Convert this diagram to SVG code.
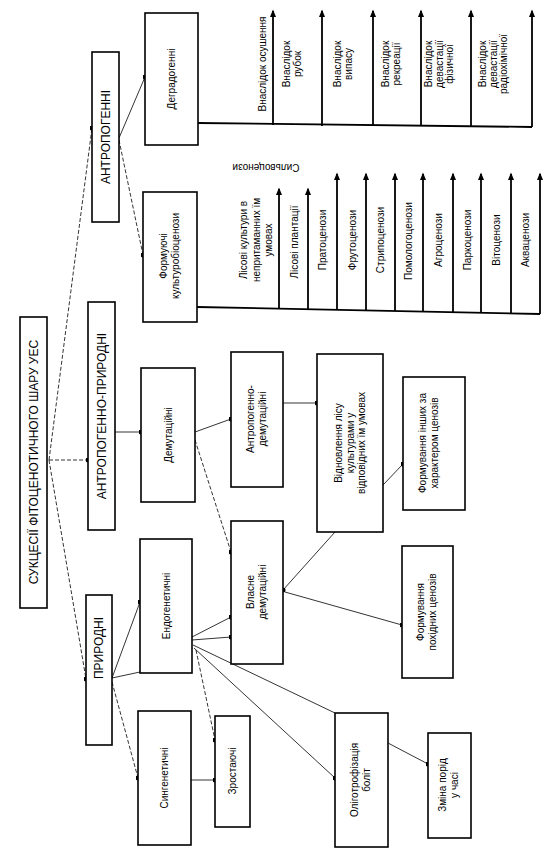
<svg xmlns="http://www.w3.org/2000/svg" width="557" height="862" viewBox="0 0 557 862">
<defs>
<marker id="dot" viewBox="0 0 6 6" refX="3" refY="3" markerWidth="5" markerHeight="5" markerUnits="userSpaceOnUse"><circle cx="3" cy="3" r="3" fill="#000"/></marker>
<marker id="arr" viewBox="0 0 10 8" refX="8" refY="4" markerWidth="8" markerHeight="6" markerUnits="userSpaceOnUse" orient="auto"><path d="M0,0 L10,4 L0,8 Z" fill="#000"/></marker>
<style>
.box{fill:#fff;stroke:#000;stroke-width:1.6}
.t{font-family:"Liberation Sans",Arial,sans-serif;font-size:10px;fill:#000;text-anchor:middle}
.h{font-family:"Liberation Sans",Arial,sans-serif;font-size:12px;fill:#000;text-anchor:middle}
.l{stroke:#000;stroke-width:0.8;fill:none}
.d{stroke:#000;stroke-width:0.8;fill:none;stroke-dasharray:4 2}
.v{stroke:#000;stroke-width:1.8;fill:none}
.e{marker-end:url(#dot)}
.a{marker-end:url(#arr)}
</style>
</defs>
<rect width="557" height="862" fill="#fff"/>
<g id="connectors">
<line class="d e" x1="49" y1="460" x2="92" y2="128"/>
<line class="d e" x1="49" y1="460" x2="88" y2="460"/>
<line class="d e" x1="49" y1="460" x2="86" y2="679"/>
<line class="l e" x1="119" y1="138" x2="145" y2="77"/>
<line class="d e" x1="119" y1="140" x2="143" y2="255"/>
<line class="l e" x1="115" y1="432" x2="141" y2="432"/>
<line class="l e" x1="195" y1="432" x2="231" y2="419"/>
<line class="d e" x1="195" y1="440" x2="231" y2="552"/>
<line class="l e" x1="283" y1="403" x2="317" y2="403"/>
<line class="l e" x1="383" y1="485" x2="403" y2="464"/>
<line class="l e" x1="112" y1="678" x2="140" y2="602"/>
<line class="l" x1="112" y1="678" x2="140" y2="672"/>
<line class="d e" x1="112" y1="682" x2="138" y2="778"/>
<line class="l e" x1="192" y1="637" x2="231" y2="617"/>
<line class="l e" x1="192" y1="640" x2="231" y2="637"/>
<line class="l" x1="193" y1="645" x2="335" y2="713"/>
<line class="l e" x1="194" y1="648" x2="335" y2="778"/>
<line class="d e" x1="196" y1="650" x2="215" y2="740"/>
<line class="l e" x1="335" y1="532" x2="283" y2="590"/>
<line class="l e" x1="285" y1="592" x2="402" y2="625"/>
<line class="l e" x1="191" y1="780" x2="215" y2="780"/>
<line class="l e" x1="388" y1="743" x2="428" y2="764"/>
<polyline class="v" points="198,123 532,127"/>
<line class="v a" x1="273" y1="125" x2="273" y2="11"/>
<line class="v a" x1="322" y1="126" x2="322" y2="11"/>
<line class="v a" x1="373" y1="126" x2="373" y2="11"/>
<line class="v a" x1="421" y1="126" x2="421" y2="11"/>
<line class="v a" x1="471" y1="127" x2="471" y2="11"/>
<line class="v a" x1="532" y1="127" x2="532" y2="11"/>
<polyline class="v" points="197,307 540,314"/>
<line class="v a" x1="279" y1="309" x2="279" y2="189"/>
<line class="v a" x1="308" y1="309" x2="308" y2="189"/>
<line class="v a" x1="337" y1="310" x2="337" y2="174"/>
<line class="v a" x1="366" y1="311" x2="366" y2="174"/>
<line class="v a" x1="395" y1="311" x2="395" y2="174"/>
<line class="v a" x1="423" y1="312" x2="423" y2="174"/>
<line class="v a" x1="453" y1="312" x2="453" y2="174"/>
<line class="v a" x1="481" y1="313" x2="481" y2="174"/>
<line class="v a" x1="511" y1="313" x2="511" y2="174"/>
<line class="v a" x1="540" y1="314" x2="540" y2="174"/>
</g>
<g id="labels">
<text class="t" transform="translate(262,64) rotate(-90)" y="3.5">Внаслідок осушення</text>
<text class="t" transform="translate(292,64) rotate(-90)"><tspan x="0" y="-2">Внаслідок</tspan><tspan x="0" y="9">рубок</tspan></text>
<text class="t" transform="translate(343,64) rotate(-90)"><tspan x="0" y="-2">Внаслідок</tspan><tspan x="0" y="9">випасу</tspan></text>
<text class="t" transform="translate(391,64) rotate(-90)"><tspan x="0" y="-2">Внаслідок</tspan><tspan x="0" y="9">рекреації</tspan></text>
<text class="t" transform="translate(439,64) rotate(-90)"><tspan x="0" y="-7">Внаслідок</tspan><tspan x="0" y="3.5">девастації</tspan><tspan x="0" y="14">фізичної</tspan></text>
<text class="t" transform="translate(493,64) rotate(-90)"><tspan x="0" y="-7">Внаслідок</tspan><tspan x="0" y="3.5">девастації</tspan><tspan x="0" y="14">радіохімічної</tspan></text>
<text class="t" transform="translate(266,167) rotate(180)" y="3.5">Сильвоценози</text>
<text class="t" transform="translate(256,240) rotate(-90)"><tspan x="0" y="-9.5">Лісові культури в</tspan><tspan x="0" y="3.5">непритаманних їм</tspan><tspan x="0" y="16">умовах</tspan></text>
<text class="t" transform="translate(294,242) rotate(-90)" y="3.5">Лісові плантації</text>
<text class="t" transform="translate(322,240) rotate(-90)" y="3.5">Пратоценози</text>
<text class="t" transform="translate(352,240) rotate(-90)" y="3.5">Фрутоценози</text>
<text class="t" transform="translate(380,240) rotate(-90)" y="3.5">Стрипоценози</text>
<text class="t" transform="translate(408,241) rotate(-90)" y="3.5">Помологоценози</text>
<text class="t" transform="translate(438,240) rotate(-90)" y="3.5">Агроценози</text>
<text class="t" transform="translate(467,240) rotate(-90)" y="3.5">Паркоценози</text>
<text class="t" transform="translate(496,240) rotate(-90)" y="3.5">Вітоценози</text>
<text class="t" transform="translate(525,240) rotate(-90)" y="3.5">Акваценози</text>
</g>
<g id="root">
<rect class="box" x="20" y="317" width="27" height="291"/>
<text class="h" transform="translate(34,462) rotate(-90)" y="4">СУКЦЕСІЇ ФІТОЦЕНОТИЧНОГО ШАРУ УЕС</text>
</g>
<g id="antropogenni">
<rect class="box" x="92" y="52" width="27" height="170"/>
<text class="h" transform="translate(106,137) rotate(-90)" y="4">АНТРОПОГЕННІ</text>
</g>
<g id="antropogenno-pryrodni">
<rect class="box" x="88" y="302" width="27" height="228"/>
<text class="h" transform="translate(102,416) rotate(-90)" y="4">АНТРОПОГЕННО-ПРИРОДНІ</text>
</g>
<g id="pryrodni">
<rect class="box" x="86" y="595" width="26" height="150"/>
<text class="h" transform="translate(99,648) rotate(-90)" y="4">ПРИРОДНІ</text>
</g>
<g id="degradogenni">
<rect class="box" x="145" y="13" width="53" height="132"/>
<text class="t" transform="translate(171,79) rotate(-90)" y="3.5">Деградогенні</text>
</g>
<g id="formuiuchi">
<rect class="box" x="143" y="192" width="54" height="130"/>
<text class="t" transform="translate(170,256) rotate(-90)"><tspan x="0" y="-3">Формуючі</tspan><tspan x="0" y="9">культуробіоценози</tspan></text>
</g>
<g id="demutatsiini">
<rect class="box" x="141" y="368" width="54" height="134"/>
<text class="t" transform="translate(168,435) rotate(-90)" y="3.5">Демутаційні</text>
</g>
<g id="antropogenno-demutatsiini">
<rect class="box" x="231" y="352" width="52" height="135"/>
<text class="t" transform="translate(257,419) rotate(-90)"><tspan x="0" y="-3">Антропогенно-</tspan><tspan x="0" y="9">демутаційні</tspan></text>
</g>
<g id="vidnovlennia">
<rect class="box" x="317" y="354" width="66" height="178"/>
<text class="t" transform="translate(350,443) rotate(-90)"><tspan x="0" y="-8">Відновлення лісу</tspan><tspan x="0" y="3.5">культурами у</tspan><tspan x="0" y="15">відповідних їм умовах</tspan></text>
</g>
<g id="formuvannia-inshykh">
<rect class="box" x="403" y="377" width="62" height="133"/>
<text class="t" transform="translate(429,443) rotate(-90)"><tspan x="0" y="-3">Формування інших за</tspan><tspan x="0" y="9">характером ценозів</tspan></text>
</g>
<g id="endogenetychni">
<rect class="box" x="140" y="539" width="52" height="134"/>
<text class="t" transform="translate(166,606) rotate(-90)" y="3.5">Ендогенетичні</text>
</g>
<g id="vlasne-demutatsiini">
<rect class="box" x="231" y="521" width="52" height="143"/>
<text class="t" transform="translate(257,592) rotate(-90)"><tspan x="0" y="-3">Власне</tspan><tspan x="0" y="9">демутаційні</tspan></text>
</g>
<g id="formuvannia-pokhidnykh">
<rect class="box" x="402" y="546" width="51" height="132"/>
<text class="t" transform="translate(427,612) rotate(-90)"><tspan x="0" y="-3">Формування</tspan><tspan x="0" y="9">похідних ценозів</tspan></text>
</g>
<g id="syngenetychni">
<rect class="box" x="138" y="711" width="53" height="134"/>
<text class="t" transform="translate(164,778) rotate(-90)" y="3.5">Сингенетичні</text>
</g>
<g id="zrostaiuchi">
<rect class="box" x="215" y="716" width="35" height="111"/>
<text class="t" transform="translate(232,771) rotate(-90)" y="3.5">Зростаючі</text>
</g>
<g id="olihotrofizatsiia">
<rect class="box" x="335" y="713" width="53" height="134"/>
<text class="t" transform="translate(361,780) rotate(-90)"><tspan x="0" y="-3">Оліготрофізація</tspan><tspan x="0" y="9">боліт</tspan></text>
</g>
<g id="zmina-porid">
<rect class="box" x="428" y="733" width="43" height="105"/>
<text class="t" transform="translate(449,785) rotate(-90)"><tspan x="0" y="-3">Зміна порід</tspan><tspan x="0" y="9">у часі</tspan></text>
</g>
</svg>
